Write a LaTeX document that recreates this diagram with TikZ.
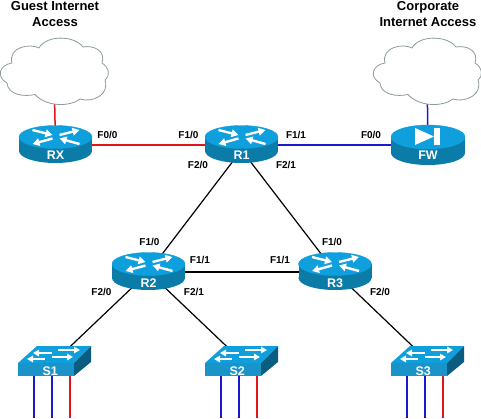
\documentclass[tikz,border=0pt]{standalone}
\usepackage{fontspec}
\setmainfont{Liberation Sans}
\usetikzlibrary{arrows.meta,backgrounds}
\definecolor{devtop}{HTML}{0F9FDD}
\definecolor{devside}{HTML}{0B7BA8}
\definecolor{devface}{HTML}{1A93C8}
\definecolor{devdark}{HTML}{0A5C80}
\definecolor{cloudline}{HTML}{8C9A9C}
\definecolor{linkred}{HTML}{E0141C}
\definecolor{linkblue}{HTML}{1A1ACC}
\begin{document}
\begin{tikzpicture}[
  x=1pt, y=-1pt,
  inet/.style={inner sep=0pt, minimum width=104pt, minimum height=62pt},
  routernode/.style={text=white, font=\bfseries\fontsize{12.5}{12.5}\selectfont, inner sep=0pt, text height=30pt, text depth=0pt},
  switchnode/.style={text=white, font=\bfseries\fontsize{12.5}{12.5}\selectfont, inner sep=0pt, text height=28pt, text depth=0pt, text width=25pt, align=left},
  portlabel/.style={font=\bfseries\fontsize{10}{10}\selectfont, inner sep=0pt},
  title/.style={font=\bfseries\fontsize{13}{16}\selectfont, align=center, inner sep=0pt},
  redlink/.style={draw=linkred, line width=1.5pt},
  bluelink/.style={draw=linkblue, line width=1.5pt},
  blacklink/.style={draw=black, line width=1.2pt},
  whitearrow/.style={-{Triangle[length=7pt,width=7.5pt]}, white, line width=2.4pt},
  swarrow/.style={-{Triangle[length=6pt,width=6.5pt]}, white, line width=2.4pt},
  cloudpic/.pic={
    \draw[cloudline, fill=white, line width=0.8pt] (-19,23.5)
      .. controls (-8,36) and (16,36) .. (26,28)
      .. controls (38,32) and (56,24) .. (51,9)
      .. controls (56,6) and (56,-3) .. (48,-8)
      .. controls (52,-20) and (40,-26) .. (29,-24)
      .. controls (20,-36) and (-8,-36) .. (-15,-23)
      .. controls (-24,-28) and (-46,-24) .. (-42,-8)
      .. controls (-55,-6) and (-58,6) .. (-47,12)
      .. controls (-46,24) and (-30,26) .. (-19,23.5) -- cycle;
  },
  router/.pic={
    \fill[devside] (0,6) ellipse [x radius=36.5, y radius=12];
    \fill[devside] (-36.5,-8) rectangle (36.5,6);
    \draw[devtop, fill=devtop, line width=0.4pt] (0,-8) ellipse [x radius=36.5, y radius=11.5];
    \draw[whitearrow] (-23,-15) -- (-3,-10);
    \draw[whitearrow] (4,-10) -- (24,-15);
    \draw[whitearrow] (-3,-6.5) -- (-23,-1);
    \draw[whitearrow] (24,-1) -- (4,-6.5);
  },
  firewall/.pic={
    \fill[devside] (0,8) ellipse [x radius=37, y radius=12];
    \fill[devside] (-37,-8) rectangle (37,8);
    \draw[devtop, fill=devtop, line width=0.4pt] (0,-8) ellipse [x radius=37, y radius=12];
    \fill[white] (-13,-17) -- (6,-8.5) -- (-13,0) -- cycle;
    \fill[white] (6,-17) rectangle (12,0);
  },
  switch/.pic={
    \fill[devface] (-37,2) rectangle (19,15);
    \fill[devtop] (-37,2) -- (-18,-15) -- (36,-15) -- (19,2) -- cycle;
    \fill[devdark] (19,2) -- (36,-15) -- (36,1) -- (19,15) -- cycle;
    \draw[swarrow] (-3,-8) -- (-22,-8);
    \draw[swarrow] (3,-11) -- (25,-11);
    \draw[swarrow] (-10,-2) -- (-28,-2);
    \draw[swarrow] (-3,-4) -- (18,-4);
  }
]
  \useasboundingbox (0,0) rectangle (481,419);

  % clouds
  \pic at (54,71) {cloudpic};
  \pic at (427,71) {cloudpic};
  \node[inet] (guest) at (54,71) {};
  \node[inet] (corp) at (427,71) {};
  \node[title] (guesttitle) at (55,14) {Guest Internet\\Access};
  \node[title] (corptitle) at (428,14) {Corporate\\Internet Access};

  % routers and firewall
  \pic at (55.5,145) {router};
  \pic at (241.5,145) {router};
  \pic at (428,145) {firewall};
  \pic at (148.5,272) {router};
  \pic at (335,272) {router};
  \node[routernode] (RX) at (55.5,145) {RX};
  \node[routernode] (R1) at (241.5,145) {R1};
  \node[routernode] (FW) at (428,145) {FW};
  \node[routernode] (R2) at (148.5,272) {R2};
  \node[routernode] (R3) at (335,272) {R3};

  % switches
  \pic at (55,361) {switch};
  \pic at (242,361) {switch};
  \pic at (428,361) {switch};
  \node[switchnode] (S1) at (55,361) {S1};
  \node[switchnode] (S2) at (242,361) {S2};
  \node[switchnode] (S3) at (428,361) {S3};

  % links
  \begin{scope}[on background layer]
    \draw[redlink] (guest) -- (RX);
    \draw[bluelink] (corp) -- (FW);
    \draw[redlink] (RX) -- (R1);
    \draw[bluelink] (R1) -- (FW);
    \draw[blacklink] ([yshift=-5pt]R1.center) -- (R2);
    \draw[blacklink] ([yshift=-5pt]R1.center) -- (R3);
    \draw[blacklink] (R2) -- (R3);
    \draw[blacklink] (R2) -- (S1);
    \draw[blacklink] (R2) -- (S2);
    \draw[blacklink] (R3) -- (S3);
    % access ports
    \draw[bluelink] ([xshift=-21pt]S1.center) -- ++(0,57);
    \draw[bluelink] ([xshift=-3pt]S1.center) -- ++(0,57);
    \draw[redlink] ([xshift=15pt]S1.center) -- ++(0,57);
    \draw[bluelink] ([xshift=-21pt]S2.center) -- ++(0,57);
    \draw[bluelink] ([xshift=-3pt]S2.center) -- ++(0,57);
    \draw[redlink] ([xshift=15pt]S2.center) -- ++(0,57);
    \draw[bluelink] ([xshift=-21pt]S3.center) -- ++(0,57);
    \draw[bluelink] ([xshift=-3pt]S3.center) -- ++(0,57);
    \draw[redlink] ([xshift=15pt]S3.center) -- ++(0,57);
  \end{scope}

  % interface labels
  \node[portlabel] (rxf00) at (107.5,135) {F0/0};
  \node[portlabel] (r1f10) at (188.5,135) {F1/0};
  \node[portlabel] (r1f20) at (198,165) {F2/0};
  \node[portlabel] (r1f11) at (296,135) {F1/1};
  \node[portlabel] (r1f21) at (286,165) {F2/1};
  \node[portlabel] (fwf00) at (371,135) {F0/0};
  \node[portlabel] (r2f10) at (149.5,242) {F1/0};
  \node[portlabel] (r2f11) at (200,260) {F1/1};
  \node[portlabel] (r2f20) at (101.5,292) {F2/0};
  \node[portlabel] (r2f21) at (194,292) {F2/1};
  \node[portlabel] (r3f10) at (332,242) {F1/0};
  \node[portlabel] (r3f11) at (280,260) {F1/1};
  \node[portlabel] (r3f20) at (380,292) {F2/0};
\end{tikzpicture}
\end{document}
